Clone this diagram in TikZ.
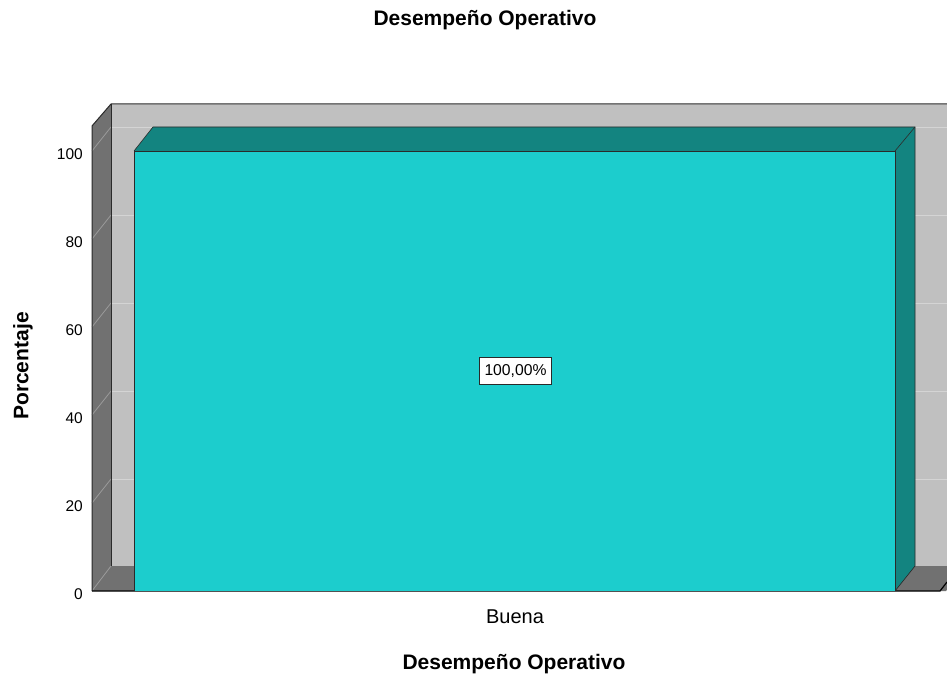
\documentclass[tikz,border=0pt]{standalone}
\usepackage{fontspec}
\setmainfont{Liberation Sans}
\definecolor{wallback}{HTML}{C0C0C0}
\definecolor{wallside}{HTML}{717171}
\definecolor{gridl}{HTML}{D4D4D4}
\definecolor{gridside}{HTML}{9A9A9A}
\definecolor{barfront}{HTML}{1CCDCD}
\definecolor{bardark}{HTML}{138480}
\definecolor{edge}{HTML}{2A2A2A}
\tikzset{
  ticklbl/.style={anchor=east, font=\fontsize{15.5}{18}\selectfont, inner sep=0pt},
  titlelbl/.style={font=\fontsize{21}{24}\selectfont\bfseries, inner sep=0pt},
  edgeline/.style={draw=edge, line width=1pt},
}
\begin{document}
\begin{tikzpicture}[x=1pt,y=-1pt]
\useasboundingbox[fill=white] (0,0) rectangle (947,679);
\begin{scope}
\clip (0,0) rectangle (947,679);
% back wall
\fill[wallback] (111,104) rectangle (965,566);
% gridlines on back wall
\foreach \v in {20,40,60,80,100} {
  \pgfmathsetmacro{\yf}{591-4.4*\v}
  \draw[gridl, line width=0.8pt] (111,\yf-24) -- (965,\yf-24);
}
% left wall
\fill[wallside] (92,591) -- (92,126) -- (111,104) -- (111,566) -- cycle;
\foreach \v in {20,40,60,80,100} {
  \pgfmathsetmacro{\yf}{591-4.4*\v}
  \draw[gridside, line width=0.8pt] (92,\yf) -- (111,\yf-24);
}
% floor
\fill[wallside] (92,591) -- (111,566) -- (965,566) -- (946,591) -- cycle;
\draw[gridside, line width=0.8pt] (92,591) -- (111,566);
% edges
\draw[edgeline] (92,591) -- (92,126) -- (111,104) -- (965,104);
\draw[edgeline] (111,104) -- (111,566);
\draw[draw=black, line width=1.2pt] (92,591) -- (940,591) -- (947,582);
% bar
\fill[bardark] (134,151) -- (153,127) -- (915,127) -- (895,151) -- cycle;
\fill[bardark] (895,151) -- (915,127) -- (915,566) -- (895,591) -- cycle;
\draw[edge, line width=0.6pt] (134,151) -- (153,127) -- (915,127) -- (915,566) -- (895,591);
\draw[edge, line width=0.6pt] (895,151) -- (915,127);
\fill[barfront] (134,151) rectangle (895,591);
\draw[edge, line width=0.6pt] (134,591) -- (134,151) -- (895,151) -- (895,591);
\end{scope}
% tick labels
\foreach \v in {0,20,40,60,80,100} {
  \node[ticklbl] (t\v) at (83,594-4.4*\v) {\v};
}
% value label
\node[draw=edge, fill=white, line width=1pt, inner sep=0pt, minimum width=72pt, minimum height=27pt, font=\fontsize{15.7}{18}\selectfont] (val) at (515.5,371) {100,00\%};
% titles
\node[titlelbl] (title) at (485,20) {Desempeño Operativo};
\node[titlelbl, rotate=90] (ytitle) at (23,366) {Porcentaje};
\node[font=\fontsize{20}{23}\selectfont, inner sep=0pt] (cat) at (515,616.5) {Buena};
\node[titlelbl] (xtitle) at (514,664) {Desempeño Operativo};
\end{tikzpicture}
\end{document}
